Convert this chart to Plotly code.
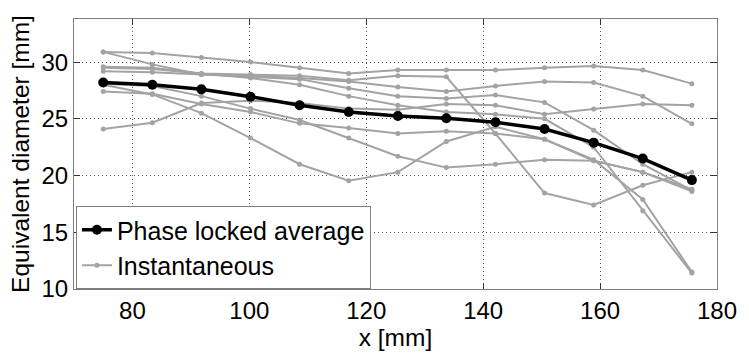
import plotly.graph_objects as go

x_pos = [75.0, 83.4, 91.8, 100.2, 108.6, 117.0, 125.4, 133.7, 142.1, 150.5, 158.9, 167.3, 175.7]

avg_vals = [28.2, 28.0, 27.6, 26.95, 26.2, 25.6, 25.25, 25.05, 24.7, 24.1, 22.9, 21.5, 19.6]

inst_1 = [30.9, 30.8, 30.4, 30.0, 29.5, 29.0, 29.3, 29.3, 29.3, 29.5, 29.65, 29.3, 28.1]
inst_2 = [30.9, 29.8, 28.9, 28.8, 28.6, 28.3, 27.8, 27.4, 27.9, 28.3, 28.2, 27.0, 24.56]
inst_3 = [29.5, 29.4, 29.0, 28.9, 28.8, 28.4, 28.8, 28.7, 23.7, 18.46, 17.4, 19.15, 20.3]
inst_4 = [24.1, 24.65, 26.4, 26.6, 26.4, 25.9, 25.8, 26.3, 26.2, 25.4, 25.87, 26.3, 26.2]
inst_5 = [28.0, 27.15, 25.5, 23.3, 21.0, 19.55, 20.3, 23.0, 24.3, 23.2, 21.3, 20.3, 18.8]
inst_6 = [27.4, 27.2, 26.3, 25.6, 24.6, 24.2, 23.7, 23.9, 23.7, 23.2, 21.4, 17.9, 11.5]
inst_7 = [29.2, 29.1, 28.9, 28.7, 28.5, 27.7, 27.0, 26.8, 27.1, 26.45, 24.0, 21.0, 18.7]
inst_8 = [29.6, 29.5, 29.0, 28.6, 28.0, 27.0, 26.2, 25.6, 25.4, 25.0, 22.5, 16.9, 11.4]
inst_9 = [28.1, 27.9, 27.0, 25.9, 24.9, 23.3, 21.7, 20.7, 21.0, 21.4, 21.3, 20.3, 18.6]

inst_all = [inst_1, inst_2, inst_3, inst_4, inst_5, inst_6, inst_7, inst_8, inst_9]

FONT = "Liberation Sans, Arial, sans-serif"
GRAY = "#a3a3a3"

fig = go.Figure()
for i, ys in enumerate(inst_all):
    fig.add_trace(go.Scatter(
        x=x_pos, y=ys, mode="lines+markers",
        line=dict(color=GRAY, width=2),
        marker=dict(color=GRAY, size=5),
        name="Instantaneous", legendgroup="inst",
        showlegend=(i == 0), legendrank=2,
    ))

fig.add_trace(go.Scatter(
    x=x_pos, y=avg_vals, mode="lines+markers",
    line=dict(color="black", width=3.5),
    marker=dict(color="black", size=10),
    name="Phase locked average", legendrank=1,
))

axis_common = dict(
    showline=True, linecolor="#7f7f7f", linewidth=1, mirror="ticks",
    ticks="inside", ticklen=6, tickcolor="#333",
    showgrid=True, gridcolor="#555", gridwidth=1, griddash="1px,3px",
    zeroline=False,
    tickfont=dict(family=FONT, size=24, color="black"),
    title_font=dict(family=FONT, size=24.5, color="black"),
)

fig.update_xaxes(range=[70, 180], dtick=20, tick0=80,
                 title_text="x [mm]", title_standoff=1, **axis_common)
fig.update_yaxes(range=[10, 33.8], dtick=5, tick0=10,
                 title_text="Equivalent diameter [mm]", title_standoff=4, **axis_common)

fig.update_layout(
    width=749, height=354,
    margin=dict(l=74, r=26, t=19, b=62),
    plot_bgcolor="white", paper_bgcolor="white",
    font=dict(family=FONT, size=24, color="black"),
    legend=dict(
        x=0.003, y=0.0, xanchor="left", yanchor="bottom",
        bgcolor="white", bordercolor="#7f7f7f", borderwidth=1,
        font=dict(family=FONT, size=25, color="black"),
        traceorder="normal", itemwidth=30, tracegroupgap=0,
    ),
)

fig.write_html("out.html")
